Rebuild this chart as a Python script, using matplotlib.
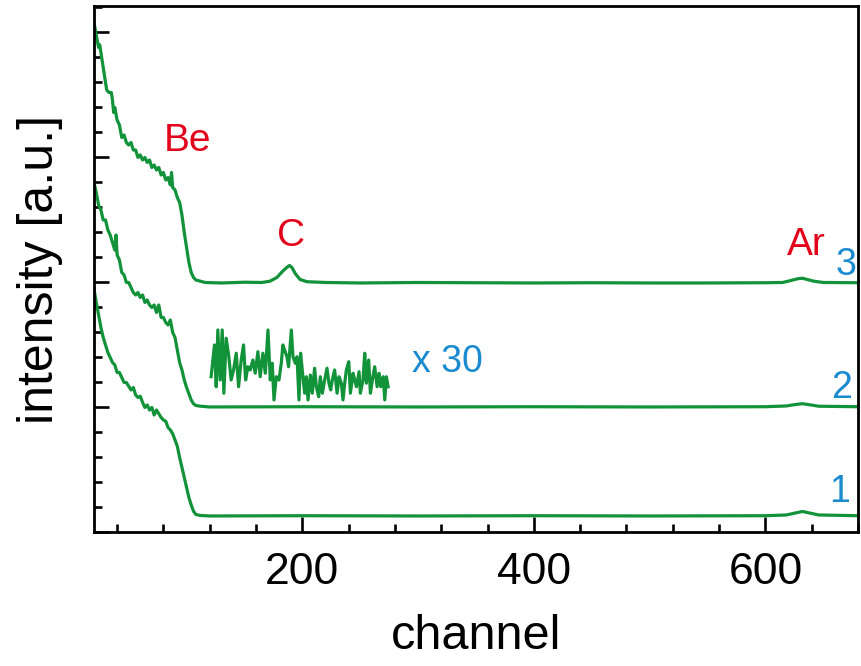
import matplotlib
matplotlib.use("Agg")
import matplotlib.pyplot as plt
from matplotlib.ticker import MultipleLocator

# spectrum 3 (top)
ch3 = [20, 22, 24, 25, 27, 29, 31, 33, 35, 36, 37, 38, 40, 42, 44, 46, 48, 50, 52, 54,
       56, 58, 60, 62, 64, 66, 68, 70, 72, 74, 76, 78, 80, 82, 84, 86, 87, 88, 90, 92,
       94, 96, 98, 100, 102, 104, 106, 108, 112, 116, 130, 150, 165, 172, 178, 183, 187,
       189, 191, 194, 198, 204, 220, 250, 300, 350, 400, 450, 500, 550, 600, 615, 622,
       628, 632, 636, 642, 650, 680]
y3 = [20.4, 19.9, 19.4, 19.5, 18.9, 18.3, 17.7, 17.6, 17.6, 17.3, 16.8, 17.0, 16.5, 16.3,
      15.8, 15.9, 15.6, 15.5, 15.6, 15.3, 15.3, 15.0, 15.1, 14.9, 15.0, 14.8, 14.9, 14.6,
      14.7, 14.5, 14.6, 14.3, 14.4, 14.1, 14.2, 13.9, 14.4, 13.8, 13.7, 13.4, 13.2, 12.7,
      12.0, 11.4, 10.8, 10.4, 10.2, 10.1, 10.05, 10.0, 9.98, 10.01, 10.0, 10.05, 10.2,
      10.45, 10.62, 10.68, 10.6, 10.35, 10.12, 10.03, 10.0, 9.98, 10.0, 9.99, 9.98, 9.99,
      9.98, 9.98, 9.99, 10.0, 10.08, 10.15, 10.17, 10.12, 10.05, 10.0, 9.99]

# spectrum 2 (middle)
ch2 = [20, 22, 24, 26, 28, 30, 32, 34, 36, 38, 39, 40, 42, 44, 46, 48, 50, 52, 54, 56,
       58, 60, 62, 64, 66, 68, 70, 72, 74, 76, 78, 80, 82, 84, 86, 88, 90, 92, 94, 96,
       98, 100, 102, 104, 106, 108, 112, 120, 200, 300, 400, 500, 600, 618, 626, 632,
       638, 646, 680]
y2 = [14.0, 13.6, 13.1, 12.9, 12.5, 12.5, 12.1, 11.9, 11.6, 11.3, 11.9, 11.1, 10.9, 10.4,
      10.3, 10.0, 10.0, 9.8, 9.6, 9.5, 9.6, 9.4, 9.5, 9.2, 9.3, 9.1, 9.0, 9.1, 8.8, 9.1,
      8.6, 8.6, 8.4, 8.3, 8.5, 8.0, 7.8, 7.3, 6.8, 6.5, 6.1, 5.8, 5.55, 5.3, 5.15, 5.08,
      5.05, 5.02, 5.03, 5.02, 5.03, 5.02, 5.03, 5.06, 5.12, 5.15, 5.11, 5.05, 5.03]

# spectrum 1 (bottom)
ch1 = [20, 22, 24, 26, 28, 30, 32, 34, 36, 38, 40, 42, 44, 46, 48, 50, 52, 54, 56, 58,
       60, 62, 64, 66, 68, 70, 72, 74, 76, 78, 80, 82, 84, 86, 88, 90, 92, 94, 96, 98,
       100, 102, 104, 106, 108, 112, 120, 200, 300, 400, 500, 600, 618, 626, 632, 638,
       646, 680]
y1 = [9.75, 9.2, 8.7, 8.2, 7.8, 7.5, 7.2, 7.0, 6.8, 6.7, 6.4, 6.4, 6.2, 6.0, 6.0, 5.85,
      5.7, 5.8, 5.5, 5.4, 5.45, 5.2, 5.0, 5.1, 4.9, 5.0, 4.7, 4.9, 4.75, 4.6, 4.5, 4.45,
      4.2, 4.1, 3.95, 3.7, 3.45, 3.0, 2.6, 2.2, 1.8, 1.4, 1.1, 0.85, 0.72, 0.68, 0.66,
      0.67, 0.66, 0.67, 0.66, 0.67, 0.7, 0.78, 0.84, 0.78, 0.7, 0.67]

# x30 magnified baseline of spectrum 2
ch_x30 = [121.2, 124.1, 125.6, 127.0, 129.0, 130.8, 132.2, 134.2, 136.5, 138.5, 140.6,
          142.9, 144.9, 147.2, 149.2, 151.0, 153.0, 155.0, 157.3, 159.3, 161.6, 163.6,
          165.9, 168.0, 170.3, 172.3, 174.0, 175.5, 177.5, 179.8, 181.8, 183.2, 184.7,
          186.7, 188.1, 190.5, 191.9, 193.9, 195.4, 197.1, 198.5, 200.5, 202.0, 203.4,
          204.9, 206.9, 208.6, 210.6, 212.1, 214.1, 215.5, 217.3, 219.3, 221.3, 223.0,
          224.5, 225.9, 227.9, 230.0, 231.7, 233.7, 235.1, 236.6, 238.0, 240.1, 241.5,
          243.8, 245.2, 246.7, 249.0, 250.1, 252.4, 253.9, 255.3, 257.3, 258.8, 260.5,
          262.5, 264.6, 266.3, 267.7, 269.8, 271.2, 272.6, 274.1]
y_x30 = [6.23, 7.5, 5.83, 8.1, 6.1, 8.1, 5.57, 7.77, 7.03, 6.1, 6.5, 7.17, 5.83, 6.9, 7.5,
         6.1, 6.63, 6.5, 6.9, 6.37, 7.23, 6.23, 7.17, 6.37, 8.1, 6.1, 6.77, 5.3, 6.23, 6.1,
         6.77, 7.5, 7.3, 7.03, 6.63, 8.1, 7.03, 6.77, 7.03, 5.3, 7.17, 6.23, 5.57, 6.23,
         5.3, 6.3, 5.57, 6.57, 5.83, 5.43, 6.23, 5.57, 6.1, 6.57, 5.97, 5.7, 6.1, 6.5,
         5.57, 6.23, 5.97, 5.3, 5.97, 6.5, 6.83, 5.57, 6.37, 6.1, 5.83, 6.43, 5.57, 6.1,
         7.17, 5.97, 6.9, 5.57, 6.1, 6.63, 5.83, 6.37, 5.83, 6.23, 5.3, 6.23, 5.83]

element_labels = ["Be", "C", "Ar"]
element_pos = [(101, 15.66), (190.5, 11.87), (635, 11.5)]
curve_labels = ["3", "2", "1", "x 30"]
curve_pos = [(669.5, 10.7), (665.6, 5.78), (664, 1.63), (325.6, 6.82)]

green = "#12933a"
red = "#e2001a"
blue = "#1b8bd0"

plt.rcParams["font.family"] = ["Liberation Sans", "DejaVu Sans"]

fig = plt.figure(figsize=(8.62, 6.66), dpi=100)
ax = fig.add_axes([0.109, 0.2005, 0.8864, 0.7905])

for xs, ys in [(ch3, y3), (ch2, y2), (ch1, y1), (ch_x30, y_x30)]:
    ax.plot(xs, ys, color=green, lw=2.3, solid_joinstyle="round")

for txt, (x, y) in zip(element_labels, element_pos):
    ax.text(x, y, txt, color=red, fontsize=28, ha="center", va="center")
for txt, (x, y) in zip(curve_labels, curve_pos):
    ax.text(x, y, txt, color=blue, fontsize=27, ha="center", va="center")

ax.set_xlim(20, 680)
ax.set_ylim(0, 21.06)
ax.xaxis.set_major_locator(MultipleLocator(200))
ax.xaxis.set_minor_locator(MultipleLocator(40))
ax.yaxis.set_major_locator(MultipleLocator(5))
ax.yaxis.set_minor_locator(MultipleLocator(1))
ax.tick_params(which="both", direction="in", width=1.9, top=False, right=False,
               labelsize=32, pad=14)
ax.tick_params(which="major", length=11)
ax.tick_params(which="minor", length=6)
ax.set_yticklabels([])
for s in ax.spines.values():
    s.set_linewidth(2.0)

ax.set_xlabel("channel", fontsize=35)
ax.set_ylabel("intensity [a.u.]", fontsize=36)
ax.xaxis.set_label_coords(0.5, -0.155)
ax.yaxis.set_label_coords(-0.04, 0.5)

fig.savefig("out.png", dpi=100)
